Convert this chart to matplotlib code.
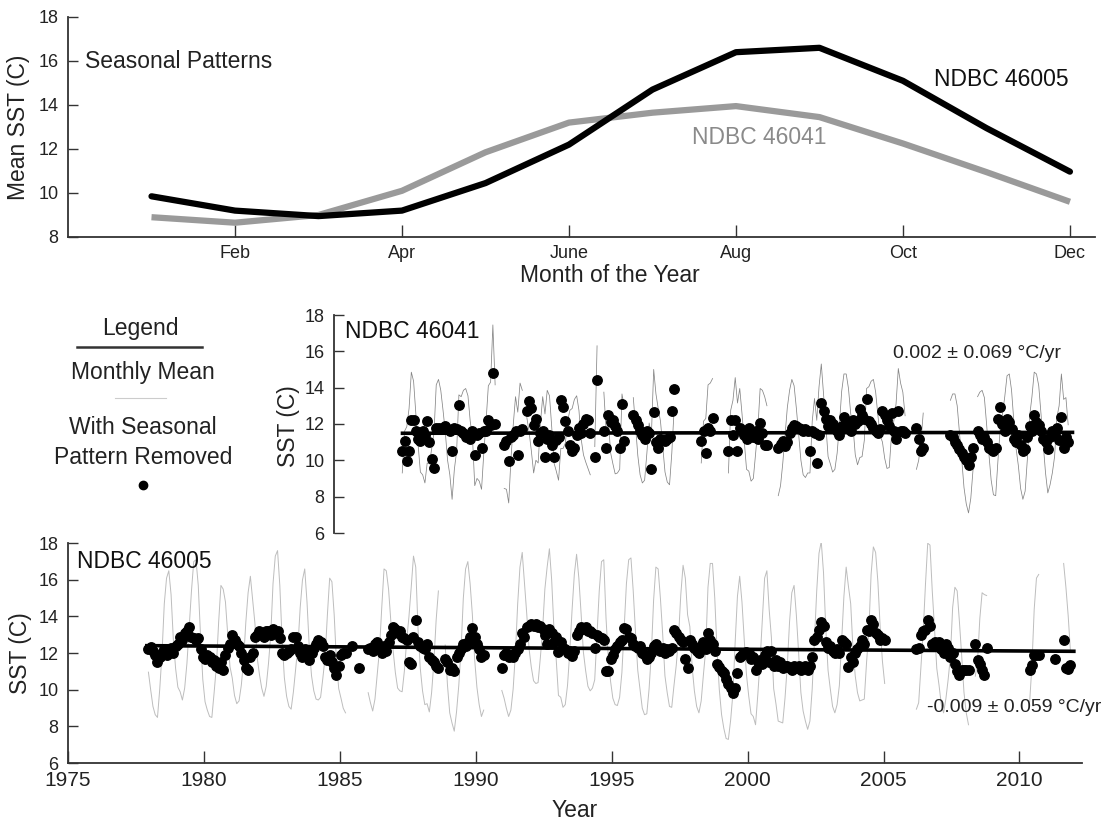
import numpy as np
import matplotlib.pyplot as plt
from matplotlib.lines import Line2D

plt.rcParams['font.family'] = ['Liberation Sans', 'DejaVu Sans']

W, H = 1107, 823

# seasonal patterns (mean SST per calendar month)
months = np.arange(1, 13)
month_ticks = [2, 4, 6, 8, 10, 12]
month_labels = ['Feb', 'Apr', 'June', 'Aug', 'Oct', 'Dec']
season_46005 = [9.85, 9.2, 8.95, 9.2, 10.45, 12.2, 14.7, 16.4, 16.6, 15.1, 12.95, 10.97]
season_46041 = [8.9, 8.65, 9.0, 10.1, 11.85, 13.2, 13.65, 13.95, 13.45, 12.25, 10.95, 9.6]

_ = None
# NDBC 46005, seasonal pattern removed, Jan..Dec from 1977
start_46005 = 1977
dots_46005 = [
    _, _, _, _, _, _, _, _, _, _, _, 12.2,                                # 1977
    12.35, 12.1, 11.9, 11.5, 11.8, 12.0, 12.2, 11.9, 12.1, 12.3, 12.0, 12.4,  # 1978
    12.5, 12.9, 12.7, 13.1, 13.2, 13.4, 12.9, 12.8, 12.7, 12.8, 12.2, 11.8,   # 1979
    11.7, 11.9, 11.8, 11.5, 11.6, 11.3, 11.2, 11.5, 11.1, 11.9, 12.3, 12.5,   # 1980
    13.0, 12.7, 12.5, 12.4, 12.0, 11.6, 11.2, 11.1, 11.8, 12.0, 12.9, 13.0,   # 1981
    13.2, 13.1, 12.9, 13.2, 13.2, 13.0, 13.3, 13.1, 13.2, 12.8, 12.0, 11.9,   # 1982
    12.0, 12.1, 12.2, 12.9, 12.9, 12.4, 12.0, 11.8, 12.2, 11.9, 11.6, 12.0,   # 1983
    12.3, 12.5, 12.7, 12.6, 12.4, 11.8, 11.6, 11.9, 11.5, 11.2, 10.8, 11.3,   # 1984
    11.9, 12.0, 12.0, _, _, 12.4, _, _, 11.2, _, _, _,                        # 1985
    12.2, 12.3, 12.1, 12.5, 12.6, 12.2, 12.0, 12.4, 12.1, 12.6, 13.0, 13.4,   # 1986
    13.3, 13.1, 13.2, 12.9, 12.8, 12.7, 11.5, 11.4, 12.9, 13.8, 12.6, 12.4,   # 1987
    12.3, 12.2, 12.5, 11.8, 11.6, 11.5, 11.3, 11.2, _, _, 11.7, 11.5,         # 1988
    11.1, 11.2, 11.0, 11.8, 12.0, 12.2, 12.5, 12.4, 12.6, 12.9, 13.35, 12.9,  # 1989
    12.5, 12.2, 11.8, 11.9, _, _, _, _, _, _, _, 11.2,                        # 1990
    11.9, 12.0, 11.8, 11.9, 11.8, 12.0, 12.2, 12.5, 13.1, 12.9, 13.4, 13.5,   # 1991
    13.6, 13.5, 13.6, 13.4, 13.5, 13.3, 13.0, 12.5, 13.3, 13.1, 12.6, 12.9,   # 1992
    12.05, 12.6, 12.3, 12.2, 12.0, 12.1, 11.85, 12.1, 13.0, 13.2, 13.4, 13.3, # 1993
    13.4, 13.2, 13.2, 13.1, 12.3, 13.0, 12.9, 12.8, 12.7, 11.0, 11.0, 11.7,   # 1994
    11.9, 12.2, 12.4, 12.6, 12.7, 13.35, 13.3, 12.9, 12.8, 12.5, 12.4, 12.3,  # 1995
    12.4, 12.0, 11.9, 11.7, 11.8, 12.0, 12.4, 12.5, 12.2, 12.1, 12.3, 12.0,   # 1996
    12.2, 12.1, 12.3, 13.25, 13.1, 12.9, 12.7, 12.6, 11.7, 11.2, 12.7, 12.5,  # 1997
    12.3, 12.1, 12.0, 12.4, 12.6, 12.2, 13.1, 12.7, 12.5, 12.1, 11.4, 11.25,  # 1998
    11.0, 10.9, 10.6, 10.3, 10.1, 9.8, 10.1, 10.9, 11.8, 11.9, 12.0, 12.05,   # 1999
    12.0, 11.7, 11.8, 11.1, 11.5, 11.6, 11.4, 11.9, 12.1, 11.5, 12.1, 11.3,   # 2000
    11.6, 11.3, 11.5, 11.2, 11.3, 11.3, 11.2, 11.1, 11.3, 11.2, 11.3, 11.1,   # 2001
    11.2, 11.3, 11.1, 11.3, 11.8, 12.7, 12.9, 13.25, 13.7, 13.5, 12.6, 12.3,  # 2002
    12.4, 12.1, 12.0, 12.2, 12.0, 12.7, 12.6, 12.5, 11.25, 11.8, 11.5, 12.0,  # 2003
    12.2, 12.4, 12.7, 12.5, 13.25, 13.2, 13.8, 13.6, 13.1, 13.0, 12.7, 12.8,  # 2004
    12.7, _, _, _, _, _, _, _, _, _, _, _,                                    # 2005
    _, _, 12.2, 12.3, 13.0, 13.2, 13.25, 13.8, 13.5, 12.5, 12.6, 12.4,        # 2006
    12.6, 12.2, 12.0, 12.5, 12.3, 11.8, 12.0, 11.4, 11.0, 10.8, 11.1, 11.1,   # 2007
    11.1, 11.1, _, _, 12.5, 11.6, 11.4, 11.1, 10.8, 12.25, _, _,              # 2008
    _, _, _, _, _, _, _, _, _, _, _, _,                                       # 2009
    _, _, _, _, 11.1, 11.35, 11.9, 11.9, 11.9, _, _, _,                       # 2010
    _, _, _, 11.7, _, _, _, 12.7, 11.2, 11.15, 11.35, _,                      # 2011
]

# NDBC 46041, seasonal pattern removed, Jan..Dec from 1987
start_46041 = 1987
dots_46041 = [
    _, _, _, 10.5, 11.05, 9.95, 10.5, 12.2, 12.2, 11.6, 11.2, 11.05,          # 1987
    11.6, 11.4, 12.15, 11.0, 10.1, 9.6, 11.8, 11.8, 11.7, 11.8, 11.9, 11.7,   # 1988
    11.6, 10.5, 11.8, 11.7, 13.05, 11.6, 11.5, 11.3, 11.4, 11.2, 11.6, 10.3,  # 1989
    11.4, 11.5, 10.7, 11.6, 11.6, 12.2, 11.95, 14.8, 12.0, _, _, _,           # 1990
    10.85, 11.05, 9.95, 11.3, 11.4, 11.6, 10.3, 11.6, 11.7, _, 12.7, 13.25,   # 1991
    12.9, 11.95, 12.3, 11.05, 11.5, 11.6, 10.2, 11.2, 11.4, 10.85, 10.2, 11.1,  # 1992
    11.3, 13.3, 12.95, 12.15, 11.6, 10.85, 10.5, 10.7, 11.4, 11.8, 11.5, 12.0,  # 1993
    12.3, 12.2, 11.5, _, 10.2, 14.4, _, _, 11.6, 10.7, 12.5, 12.1,            # 1994
    12.2, 11.9, 11.6, 10.7, 13.1, 11.05, _, _, _, 12.5, 12.2, 11.95,          # 1995
    11.6, 11.4, 11.2, 11.6, 11.5, 9.5, 12.65, 11.0, 10.7, 11.2, 11.1, 11.05,  # 1996
    11.2, 11.3, 12.7, 13.95, _, _, _, _, _, _, _, _,                          # 1997
    _, _, _, 11.05, 11.6, 10.4, 11.8, 11.6, 12.35, _, _, _,                   # 1998
    _, _, _, 10.5, 12.2, 11.4, 12.2, 10.5, 11.8, 11.6, 11.4, 11.2,            # 1999
    11.8, 11.5, 11.3, 11.6, 11.2, 12.05, 11.5, 10.85, 10.85, _, _, _,         # 2000
    _, 10.7, 10.9, 11.05, 10.8, 11.0, 11.5, 11.8, 11.95, 11.9, 11.8, 11.7,    # 2001
    11.6, 11.7, 11.6, 10.5, 11.6, 11.5, 9.85, 11.4, 13.15, 12.7, 12.3, 11.9,  # 2002
    12.2, 12.0, 11.8, 11.6, 11.4, 11.9, 12.4, 12.1, 11.8, 11.6, 12.2, 12.0,   # 2003
    12.15, 12.8, 12.5, 12.3, 13.4, 12.15, 12.0, 11.8, 11.6, 11.5, 11.7, 12.7, # 2004
    12.5, 12.2, 11.9, 12.6, 11.6, 11.2, 12.7, 11.6, 11.6, 11.5, _, _,         # 2005
    _, _, 11.8, 11.2, 10.5, 10.7, _, _, _, _, _, _,                           # 2006
    _, _, _, _, _, 11.4, 11.3, 11.0, 10.85, 10.6, 10.4, 10.2,                 # 2007
    10.0, 9.75, 10.2, 10.7, _, 11.6, 11.4, 11.2, 11.3, 11.0, 10.7, 10.6,      # 2008
    10.5, 10.7, 12.3, 12.95, 12.0, 11.6, 12.3, 12.1, 11.7, 11.2, 11.0, 11.4,  # 2009
    10.85, 10.5, 10.6, 11.3, 11.9, 11.6, 12.5, 12.1, 11.95, 11.6, 11.2, 11.0, # 2010
    10.6, 11.3, 11.6, 11.4, 11.8, 11.1, 12.4, 10.7, 11.3, 11.0, _, _,         # 2011
]

# linear trends: [first year, last year], value at first year, slope (C/yr)
trend_span_46005 = [1977.9, 2012.0]
trend_start_46005 = 12.4
slope_46005 = -0.009
trend_span_46041 = [1987.3, 2011.95]
trend_start_46041 = 11.49
slope_46041 = 0.002


def monthly_series(start, dots, season):
    """time axis, deseasonalised values and monthly means (seasonal pattern added back)"""
    vals = np.array(dots, dtype=float)
    idx = np.arange(len(vals))
    t = start + (idx % 12 + 0.5) / 12 + idx // 12
    seas = np.array(season)[idx % 12]
    monthly = vals - np.mean(season) + seas
    return t, vals, monthly


def px(x, y):
    return x / W, 1 - y / H


def style_axis(ax, bottom=True):
    for s in ['top', 'right']:
        ax.spines[s].set_visible(False)
    for s in ['left', 'bottom']:
        ax.spines[s].set_color('#333333')
        ax.spines[s].set_linewidth(1.3)
    ax.tick_params(direction='in', color='#333333', width=1.0, labelcolor='#222222')
    ax.tick_params(axis='y', length=7, pad=7, labelsize=13)
    ax.tick_params(axis='x', length=9, pad=6)
    if not bottom:
        ax.spines['bottom'].set_visible(False)
        ax.tick_params(axis='x', bottom=False, labelbottom=False)


fig = plt.figure(figsize=(W / 100, H / 100), dpi=100)

# ---- top: seasonal patterns
ax1 = fig.add_axes([68 / W, 1 - 237 / H, 1027 / W, 220 / H])
ax1.plot(months, season_46041, color='#9a9a9a', lw=4.5, solid_capstyle='butt')
ax1.plot(months, season_46005, color='black', lw=4.5, solid_capstyle='round')
ax1.set_xlim(0, 12.3)
ax1.set_ylim(8, 18)
ax1.set_xticks(month_ticks)
ax1.set_xticklabels(month_labels)
ax1.set_yticks(np.arange(8, 19, 2))
style_axis(ax1)
ax1.tick_params(axis='x', labelsize=13)
ax1.set_xlabel('Month of the Year', fontsize=16.5, color='#222222')
ax1.xaxis.set_label_coords(0.528, -0.125)
ax1.set_ylabel('Mean SST (C)', fontsize=16.5, color='#222222')
ax1.yaxis.set_label_coords(-0.037, 0.5)
ax1.text(17 / 1027, 18 - 45 / 22, 'Seasonal Patterns', fontsize=16.5, color='#222222',
         va='center', transform=ax1.get_yaxis_transform())
ax1.text(934 / W, 1 - 80 / H, 'NDBC 46005', fontsize=16.5, color='#111111',
         va='center', transform=fig.transFigure)
ax1.text(692 / W, 1 - 137 / H, 'NDBC 46041', fontsize=16.5, color='#8a8a8a',
         va='center', transform=fig.transFigure)

# ---- middle: NDBC 46041
ax2 = fig.add_axes([334 / W, 1 - 533 / H, 748 / W, 218 / H])
t41, v41, m41 = monthly_series(start_46041, dots_46041, season_46041)
ax2.plot(t41, m41, color='#858585', lw=0.55, zorder=1)
ax2.plot(t41, v41, 'o', color='black', ms=6.8, zorder=2)
span = np.array(trend_span_46041)
ax2.plot(span, trend_start_46041 + slope_46041 * (span - span[0]), color='black', lw=2.6, zorder=3)
ax2.set_xlim(1984.78, 2012.3)
ax2.set_ylim(6, 18)
ax2.set_yticks(np.arange(6, 19, 2))
style_axis(ax2, bottom=False)
ax2.set_ylabel('SST (C)', fontsize=16.5, color='#222222')
ax2.yaxis.set_label_coords(-0.0455, 0.49)
ax2.text(*px(345, 332), 'NDBC 46041', fontsize=16.5, color='#111111', va='center',
         transform=fig.transFigure)
ax2.text(*px(893, 353), '0.002 \u00b1 0.069 \u00b0C/yr', fontsize=14, color='#222222',
         va='center', transform=fig.transFigure)

# ---- bottom: NDBC 46005
ax3 = fig.add_axes([68 / W, 1 - 763 / H, 1014 / W, 220 / H])
t05, v05, m05 = monthly_series(start_46005, dots_46005, season_46005)
ax3.plot(t05, m05, color='#bdbdbd', lw=0.7, zorder=1)
ax3.plot(t05, v05, 'o', color='black', ms=6.8, zorder=2)
span = np.array(trend_span_46005)
ax3.plot(span, trend_start_46005 + slope_46005 * (span - span[0]), color='black', lw=2.6, zorder=3)
ax3.set_xlim(1975, 2012.3)
ax3.set_ylim(6, 18)
ax3.set_xticks(np.arange(1975, 2011, 5))
ax3.set_yticks(np.arange(6, 19, 2))
style_axis(ax3)
ax3.tick_params(axis='x', labelsize=15)
ax3.set_xlabel('Year', fontsize=16.5, color='#222222')
ax3.xaxis.set_label_coords(0.5, -0.165)
ax3.set_ylabel('SST (C)', fontsize=16.5, color='#222222')
ax3.yaxis.set_label_coords(-0.0355, 0.5)
ax3.text(*px(77, 562), 'NDBC 46005', fontsize=16.5, color='#111111', va='center',
         transform=fig.transFigure)
ax3.text(*px(927, 708), '-0.009 \u00b1 0.059 \u00b0C/yr', fontsize=14, color='#222222',
         va='center', transform=fig.transFigure)

# ---- hand-made legend
fig.text(*px(140, 328), 'Legend', fontsize=16.5, ha='center', va='center', color='#222222')
fig.add_artist(Line2D([77 / W, 202 / W], [1 - 347 / H] * 2, color='#333333', lw=1.8))
fig.text(*px(143, 373), 'Monthly Mean', fontsize=16.5, ha='center', va='center', color='#222222')
fig.add_artist(Line2D([115 / W, 166 / W], [1 - 398 / H] * 2, color='#cccccc', lw=0.8))
fig.text(*px(143, 427), 'With Seasonal', fontsize=16.5, ha='center', va='center', color='#222222')
fig.text(*px(143, 457), 'Pattern Removed', fontsize=16.5, ha='center', va='center', color='#222222')
fig.add_artist(Line2D([143 / W], [1 - 485 / H], marker='o', color='black', ms=6))

fig.savefig('out.png', dpi=100)
